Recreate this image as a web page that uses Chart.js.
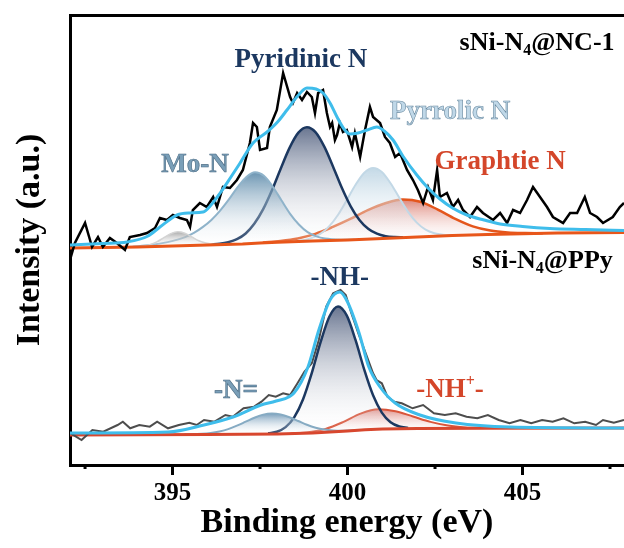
<!DOCTYPE html>
<html>
<head>
<meta charset="utf-8">
<script src="https://cdn.jsdelivr.net/npm/chart.js@4.4.1/dist/chart.umd.min.js"></script>
<style>
  html, body { margin: 0; padding: 0; background: #fff; overflow: hidden; }
  canvas { display: block; }
</style>
</head>
<body>
<canvas id="xps" width="624" height="548"></canvas>
<script>
// ── data: [binding energy (eV), intensity (a.u.)] ──
const xMin = 392.07, xMax = 407.9;
const majorTicks = [395, 400, 405];
const minorTicks = [392.5, 397.5, 402.5, 407.5];

// sNi-N4@NC-1 (upper spectrum)
const ncRaw = [[392.07,205],[392.21,222],[392.5,242],[392.7,218],[392.87,228],[393.01,218],[393.21,227],[393.41,222],[393.64,215],[393.78,228],[394.07,230],[394.27,232],[394.5,237],[394.64,247],[394.84,245],[395.01,250],[395.21,247],[395.41,245],[395.5,238],[395.58,255],[395.78,262],[395.98,258],[396.16,268],[396.27,258],[396.44,278],[396.64,277],[396.84,285],[397.01,295],[397.21,322],[397.3,342],[397.41,338],[397.5,315],[397.7,317],[397.78,338],[397.98,355],[398.16,392],[398.36,368],[398.44,362],[398.56,372],[398.7,365],[398.84,373],[398.98,368],[399.07,352],[399.16,372],[399.3,375],[399.41,352],[399.5,338],[399.56,342],[399.64,325],[399.7,330],[399.78,342],[399.87,333],[399.98,335],[400.07,325],[400.13,318],[400.21,332],[400.36,308],[400.5,335],[400.64,358],[400.73,348],[400.93,342],[401.07,328],[401.21,322],[401.36,308],[401.5,312],[401.7,295],[401.87,285],[402.01,275],[402.16,262],[402.3,278],[402.44,265],[402.56,295],[402.64,268],[402.84,272],[403.01,258],[403.16,265],[403.3,255],[403.5,248],[403.7,258],[403.87,252],[404.16,245],[404.36,252],[404.56,242],[404.73,255],[404.93,252],[405.13,265],[405.3,278],[405.5,268],[405.7,258],[405.87,248],[406.16,242],[406.36,252],[406.56,252],[406.78,268],[406.93,252],[407.13,248],[407.3,242],[407.58,248],[407.78,258],[407.9,262]];
const ncFit = [[392.07,220],[393.0,221.5],[393.7,223],[394.3,229],[394.64,238],[395.13,250],[395.5,252],[395.87,253],[396.1,260],[396.36,272],[396.65,287],[396.93,302],[397.3,322],[397.7,333],[398.0,343],[398.27,355],[398.55,368],[398.84,377],[399.1,376],[399.3,372],[399.5,362],[399.7,348],[399.9,336],[400.07,331],[400.3,332],[400.56,335],[400.84,338],[401.05,334],[401.3,325],[401.6,308],[401.98,290],[402.3,277],[402.64,266],[403.0,257],[403.41,250],[403.9,245],[404.36,241],[405.0,238.5],[405.78,236.5],[406.8,235.5],[407.9,234.5]];
const ncBase = [[392.07,217],[394,218],[395,219],[396,220],[397,221],[397.5,222],[398,222.7],[399,224],[400,225],[401,226.5],[402,228],[403,229.5],[404,230.5],[405,231.3],[406,232],[407.9,232.5]];
const ncMetal = [[393.9,217.9],[394.15,218.8],[394.35,220.3],[394.55,223.1],[394.75,227.3],[394.95,231.4],[395.15,233.2],[395.35,231.8],[395.55,228.1],[395.75,224.3],[395.95,221.9],[396.15,220.8],[396.4,220.4]];
const ncMoN = [[393.86,218.3],[394.36,219.9],[394.86,222.9],[395.36,227.9],[395.61,232.1],[395.86,237.9],[396.11,245.1],[396.36,254.4],[396.61,265.6],[396.86,277.9],[397.11,288.1],[397.36,292.7],[397.61,289.2],[397.86,278.5],[398.11,264.8],[398.36,251.2],[398.61,240.5],[398.86,232.8],[399.11,228.6],[399.36,226.4],[399.86,225.3],[400.2,225.2]];
const ncPyridinic = [[396.09,220.4],[396.34,221.2],[396.59,222.8],[396.84,225.8],[397.09,231.5],[397.34,241.4],[397.59,255.8],[397.84,274.7],[398.09,296.3],[398.34,316.9],[398.59,332.1],[398.84,337.8],[399.09,332.7],[399.34,318.1],[399.59,298.1],[399.84,277.0],[400.09,258.7],[400.34,245.1],[400.59,236.3],[400.84,231.3],[401.09,228.8],[401.34,227.9],[401.59,227.7]];
const ncPyrrolic = [[398.48,223.8],[398.73,224.8],[398.98,227.1],[399.23,231.3],[399.48,238.9],[399.73,250.3],[399.98,265.0],[400.23,280.3],[400.48,292.3],[400.73,297.1],[400.98,293.1],[401.23,281.8],[401.48,267.2],[401.73,253.2],[401.98,242.4],[402.23,235.4],[402.48,231.8],[402.73,230.3],[402.98,229.9]];
const ncGraphitic = [[397.58,222.6],[398.08,224.1],[398.58,226.6],[399.08,231.1],[399.58,238.1],[400.08,246.1],[400.58,254.9],[401.08,261.7],[401.58,265.4],[402.08,263.2],[402.58,255.4],[403.08,246.1],[403.58,238.6],[404.08,234.4],[404.58,232.5],[405.08,231.9],[405.58,231.7]];

// sNi-N4@PPy (lower spectrum)
const ppyRaw = [[392.09,31.7],[392.4,25],[392.71,35],[393.02,33.3],[393.43,40],[393.58,43.3],[393.79,36.7],[394.05,40],[394.35,38.3],[394.56,43.3],[394.87,36.7],[395.18,40],[395.48,42.3],[395.69,40],[395.9,45],[396.2,43.3],[396.51,50],[396.72,48.3],[397.03,56.7],[397.33,58.3],[397.54,63.3],[397.75,70],[397.95,68.3],[398.16,71.7],[398.36,70],[398.57,81.7],[398.77,93.3],[398.98,101.7],[399.18,125],[399.39,158.3],[399.59,171.7],[399.8,175],[399.95,170],[400.11,151.7],[400.31,131.7],[400.52,111.7],[400.73,91.7],[400.83,85],[400.98,81.7],[401.14,68.3],[401.34,63.3],[401.55,61.7],[401.86,56.7],[402.16,60],[402.47,51.7],[402.78,50],[403.09,51.7],[403.4,48.3],[403.71,46.7],[404.01,50],[404.32,45],[404.63,41.7],[404.94,45],[405.25,41.7],[405.56,45],[405.86,43.3],[406.17,46.7],[406.48,41.7],[406.79,43.3],[407.1,40],[407.3,45],[407.61,42.3],[407.9,45]];
const ppyFit = [[392.07,32],[394.87,33],[395.9,40],[396.73,48],[397.53,60],[397.96,64],[398.47,72],[398.87,98],[399.18,135],[399.5,165],[399.78,173],[400.0,163],[400.33,132],[400.61,98],[400.93,78],[401.36,62],[402.07,50],[403.1,42],[404.64,38],[407.9,37]];
const ppyBase = [[392.07,30],[396,30.5],[398,31],[399,32],[399.5,33],[400,34],[400.5,35.2],[401,36],[402,36.5],[404,36.8],[407.9,37]];
const ppyImine = [[395.34,30.7],[395.84,31.3],[396.09,32.1],[396.34,33.6],[396.59,35.9],[396.84,39.3],[397.09,43.3],[397.34,47.3],[397.59,50.4],[397.84,51.5],[398.09,50.5],[398.34,47.7],[398.59,44.0],[398.84,40.2],[399.09,37.3],[399.34,35.5],[399.59,34.6],[399.84,34.3],[400.34,34.9]];
const ppyAmine = [[397.73,31.7],[397.98,33.3],[398.23,37.9],[398.48,47.9],[398.73,65.8],[398.98,92.1],[399.23,122.8],[399.48,148.3],[399.73,158.5],[399.98,149.3],[400.23,124.8],[400.48,95.1],[400.73,69.7],[400.98,52.4],[401.23,42.8],[401.48,38.5],[401.73,37.1]];
const ppyCation = [[398.37,31.6],[398.87,32.8],[399.37,36.1],[399.87,42.9],[400.37,51.4],[400.87,55.8],[401.37,53.8],[401.87,48.5],[402.37,43.1],[402.87,39.4],[403.37,37.6],[403.87,37.0]];

document.addEventListener('DOMContentLoaded', () => {

    const SERIF = '"Liberation Serif", "Times New Roman", serif';
    const pts = arr => arr.map(([x, y]) => ({ x, y }));

    // vertical gradient from the peak of a component down to its foot
    const fade = (top, bottom) => c => {
        const chart = c.chart;
        if (!chart.chartArea) return 'transparent';
        const ys = chart.data.datasets[c.datasetIndex].data.map(p => p.y);
        const y = chart.scales.y;
        const g = chart.ctx.createLinearGradient(0, y.getPixelForValue(Math.max(...ys)), 0, y.getPixelForValue(Math.min(...ys)));
        g.addColorStop(0, top);
        g.addColorStop(1, bottom);
        return g;
    };

    const line = (data, color, width, extra) => Object.assign({
        data: pts(data), borderColor: color, borderWidth: width,
        pointRadius: 0, fill: false, tension: 0
    }, extra || {});

    const peak = (data, color, width, fillTop, target) => line(data, color, width, {
        cubicInterpolationMode: 'monotone',
        fill: target,
        backgroundColor: fade(fillTop, 'rgba(255,255,255,0.05)'),
        order: 6
    });

    // dataset indices 0 and 1 are the two backgrounds (fill targets)
    const datasets = [
        line(ncBase, '#e8561a', 3, { order: 3 }),
        line(ppyBase, '#d8472e', 3, { order: 3 }),
        peak(ncMetal, '#d4d4d4', 1.5, 'rgba(160,160,160,0.9)', 0),
        peak(ncMoN, '#8fb3ca', 2, 'rgba(92,138,170,0.9)', 0),
        peak(ncPyridinic, '#1c3860', 2.5, 'rgba(88,102,132,0.9)', 0),
        peak(ncPyrrolic, '#c2d8e6', 2, 'rgba(188,212,227,0.9)', 0),
        peak(ncGraphitic, '#e4561c', 2.5, 'rgba(214,105,90,0.8)', 0),
        peak(ppyImine, '#86abc3', 2, 'rgba(98,142,176,0.85)', 1),
        peak(ppyAmine, '#1c3860', 2.5, 'rgba(88,102,132,0.9)', 1),
        peak(ppyCation, '#d9553a', 2, 'rgba(214,110,100,0.75)', 1),
        line(ncRaw, '#000000', 2.5, { order: 2 }),
        line(ppyRaw, '#4d4d4d', 2, { order: 2 }),
        line(ncFit, '#3fbdeb', 3, { order: 1, cubicInterpolationMode: 'monotone' }),
        line(ppyFit, '#3fbdeb', 3, { order: 1, cubicInterpolationMode: 'monotone' })
    ];

    // ── text labels on the plot ──
    const labels = [
        { parts: [['Pyridinic N']], x: 398.67, y: 405, color: '#1c3860' },
        { parts: [['Mo-N']], x: 395.64, y: 300, color: '#7a9fb8', stroke: '#4a6a82' },
        { parts: [['Pyrrolic N']], x: 402.93, y: 353, color: '#c0d8e8', stroke: '#6a8aa0' },
        { parts: [['Graphtie N']], x: 404.36, y: 303, color: '#d4462a' },
        { parts: [['sNi-N'], ['4', 'sub'], ['@NC-1']], x: 407.63, y: 422, color: '#000', align: 'right', size: 26 },
        { parts: [['sNi-N'], ['4', 'sub'], ['@PPy']], x: 407.58, y: 204, color: '#000', align: 'right', size: 26 },
        { parts: [['-NH-']], x: 399.78, y: 187, color: '#1c3860' },
        { parts: [['-N=']], x: 396.81, y: 74, color: '#7a9fb8', stroke: '#4a6a82' },
        { parts: [['-NH'], ['+', 'sup'], ['-']], x: 402.93, y: 75, color: '#d4462a' }
    ];

    const drawRich = (ctx, lb, px, py) => {
        const size = lb.size || 27;
        const small = Math.round(size * 0.6);
        const big = `bold ${size}px ${SERIF}`, little = `bold ${small}px ${SERIF}`;
        const widths = lb.parts.map(([t, m]) => { ctx.font = m ? little : big; return ctx.measureText(t).width; });
        const total = widths.reduce((a, b) => a + b, 0);
        let x = lb.align === 'right' ? px - total : px - total / 2;
        ctx.textBaseline = 'middle';
        ctx.textAlign = 'left';
        lb.parts.forEach(([t, m], i) => {
            ctx.font = m ? little : big;
            const dy = m === 'sub' ? size * 0.32 : m === 'sup' ? -size * 0.3 : 0;
            ctx.fillStyle = lb.color;
            ctx.fillText(t, x, py + dy);
            if (lb.stroke) {
                ctx.lineWidth = 0.6;
                ctx.strokeStyle = lb.stroke;
                ctx.strokeText(t, x, py + dy);
            }
            x += widths[i];
        });
    };

    const annotate = {
        id: 'annotate',
        afterDatasetsDraw(chart) {
            const { ctx, scales: { x, y } } = chart;
            ctx.save();
            labels.forEach(lb => drawRich(ctx, lb, x.getPixelForValue(lb.x), y.getPixelForValue(lb.y)));
            ctx.restore();
        },
        afterDraw(chart) {
            // short minor ticks under the x axis
            const { ctx, scales: { x } } = chart;
            ctx.save();
            ctx.strokeStyle = '#000';
            ctx.lineWidth = 3;
            minorTicks.forEach(v => {
                const px = x.getPixelForValue(v);
                ctx.beginPath();
                ctx.moveTo(px, x.top);
                ctx.lineTo(px, x.top + 4);
                ctx.stroke();
            });
            ctx.restore();
        }
    };

    const allTicks = majorTicks.concat(minorTicks).sort((a, b) => a - b);

    new Chart(document.getElementById('xps'), {
        type: 'line',
        data: { datasets },
        plugins: [annotate],
        options: {
            responsive: false,
            animation: false,
            devicePixelRatio: 1,
            layout: { padding: 0 },
            plugins: { legend: { display: false }, tooltip: { enabled: false } },
            scales: {
                x: {
                    type: 'linear', position: 'bottom', min: xMin, max: xMax,
                    afterBuildTicks: s => { s.ticks = allTicks.map(v => ({ value: v })); },
                    afterFit: s => { s.height = 83; },
                    border: { color: '#000', width: 3 },
                    grid: {
                        drawOnChartArea: false, tickLength: 10, tickWidth: 3,
                        tickColor: c => majorTicks.includes(c.tick.value) ? '#000' : 'rgba(0,0,0,0)'
                    },
                    ticks: {
                        autoSkip: false, maxRotation: 0, padding: 4, color: '#000',
                        font: { family: SERIF, size: 25, weight: 'bold' },
                        callback: v => majorTicks.includes(v) ? String(v) : ''
                    },
                    title: {
                        display: true, text: 'Binding energy (eV)', color: '#000',
                        font: { family: SERIF, size: 34, weight: 'bold' },
                        padding: { top: 0, bottom: 4 }
                    }
                },
                xTop: {
                    type: 'linear', position: 'top', min: xMin, max: xMax,
                    afterFit: s => { s.height = 15; },
                    border: { color: '#000', width: 3 },
                    grid: { display: false },
                    ticks: { display: false }
                },
                y: {
                    type: 'linear', position: 'left', min: 0, max: 450,
                    afterFit: s => { s.width = 70; },
                    border: { color: '#000', width: 3 },
                    grid: { display: false },
                    ticks: { display: false },
                    title: {
                        display: true, text: 'Intensity (a.u.)', color: '#000',
                        font: { family: SERIF, size: 34, weight: 'bold' },
                        padding: { top: 10, bottom: 0 }
                    }
                }
            }
        }
    });
});
</script>
</body>
</html>
